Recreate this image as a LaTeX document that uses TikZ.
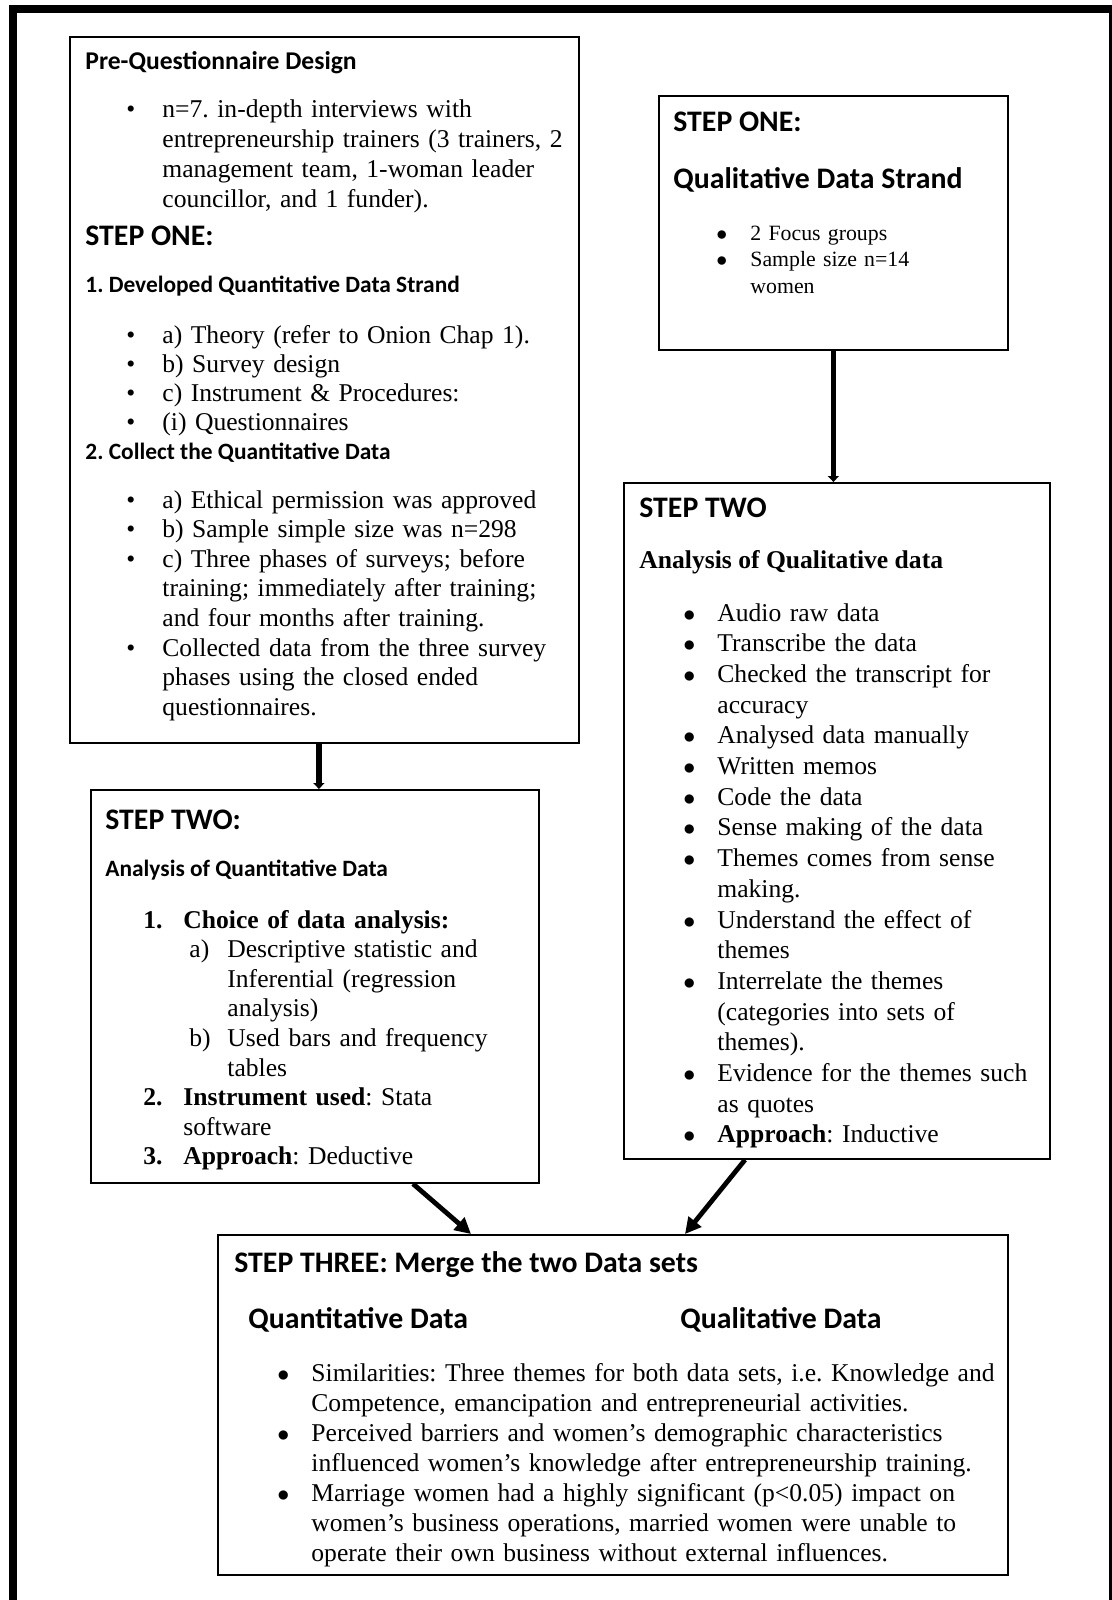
\documentclass[tikz,border=0pt]{standalone}
\usepackage{fontspec}
\setmainfont{Liberation Serif}
\newfontfamily\calibri{Carlito}
\usepackage{tikz}
\usetikzlibrary{arrows.meta}
\frenchspacing

\newcommand\dotA{\makebox[18pt][l]{\textbullet}}
\newcommand\dotB{\makebox[17pt][l]{$\bullet$}}

\begin{document}
\begin{tikzpicture}[x=0.5pt, y=-0.5pt,
  stepbox/.style={draw, line width=0.9pt, anchor=north west, inner sep=0pt},
  headtxt/.style={anchor=base west, inner sep=0pt, font=\calibri\bfseries\fontsize{14.9}{17}\selectfont},
  subtxt/.style={anchor=base west, inner sep=0pt, font=\calibri\bfseries\fontsize{11.7}{14}\selectfont},
  bodytxt/.style={anchor=base west, inner sep=0pt, align=left, text width=400pt},
  bigarrow/.style={line width=2.4pt, -{Triangle[length=8pt,width=8pt]}},
  smallarrow/.style={line width=2.8pt, -{Triangle[length=3pt,width=5.5pt]}}]
  \useasboundingbox (0,0) rectangle (1112,1600);
  % page frame
  \draw[line width=4pt] (13,1600) -- (13,9) -- (1112,9);
  \draw[line width=1.5pt] (1110.5,9) -- (1110.5,1600);

  % boxes
  \node[stepbox, minimum width=254.5pt, minimum height=353pt] (QN1) at (69,36) {};
  \node[stepbox, minimum width=174.5pt, minimum height=127pt] (QL1) at (658,95) {};
  \node[stepbox, minimum width=213pt, minimum height=338pt] (QL2) at (623,482) {};
  \node[stepbox, minimum width=224pt, minimum height=196.5pt] (QN2) at (90,789) {};
  \node[stepbox, minimum width=395pt, minimum height=170pt] (M) at (217,1234) {};

  % quantitative strand
  \node[subtxt, font=\calibri\bfseries\fontsize{12.8}{15}\selectfont] (QN1h) at (85,70) {Pre-Questionnaire Design};
  \node[bodytxt, font=\fontsize{12.8}{15}\selectfont] (QN1a) at (126,118) {%
    \dotA n=7. in-depth interviews with\\
    \hspace*{18pt}entrepreneurship trainers (3 trainers, 2\\
    \hspace*{18pt}management team, 1-woman leader\\
    \hspace*{18pt}councillor, and 1 funder).};
  \node[headtxt] (QN1s) at (85,245) {STEP ONE:};
  \node[subtxt] (QN1d) at (85,292) {1. Developed Quantitative Data Strand};
  \node[bodytxt, font=\fontsize{12.8}{14.65}\selectfont] (QN1b) at (126,343) {%
    \dotA a) Theory (refer to Onion Chap 1).\\
    \dotA b) Survey design\\
    \dotA c) Instrument \& Procedures:\\
    \dotA (i) Questionnaires};
  \node[subtxt] (QN1c) at (85,459) {2. Collect the Quantitative Data};
  \node[bodytxt, font=\fontsize{12.8}{14.8}\selectfont] (QN1e) at (126,508) {%
    \dotA a) Ethical permission was approved\\
    \dotA b) Sample simple size was n=298\\
    \dotA c) Three phases of surveys; before\\
    \hspace*{18pt}training; immediately after training;\\
    \hspace*{18pt}and four months after training.\\
    \dotA Collected data from the three survey\\
    \hspace*{18pt}phases using the closed ended\\
    \hspace*{18pt}questionnaires.};

  \node[headtxt] (QN2h) at (105,829) {STEP TWO:};
  \node[subtxt] (QN2s) at (105,876) {Analysis of Quantitative Data};
  \node[bodytxt, font=\fontsize{12.8}{14.8}\selectfont] (QN2a) at (143,928) {%
    \makebox[20pt][l]{\textbf{1.}}\textbf{Choice of data analysis:}\\
    \hspace*{23pt}\makebox[19pt][l]{a)}Descriptive statistic and\\
    \hspace*{42pt}Inferential (regression\\
    \hspace*{42pt}analysis)\\
    \hspace*{23pt}\makebox[19pt][l]{b)}Used bars and frequency\\
    \hspace*{42pt}tables\\
    \makebox[20pt][l]{\textbf{2.}}\textbf{Instrument used}: Stata\\
    \hspace*{20pt}software\\
    \makebox[20pt][l]{\textbf{3.}}\textbf{Approach}: Deductive};

  % qualitative strand
  \node[headtxt] (QL1h) at (673,132) {STEP ONE:};
  \node[headtxt] (QL1s) at (673,188) {Qualitative Data Strand};
  \node[bodytxt, font=\fontsize{10.9}{13.25}\selectfont] (QL1a) at (716,240) {%
    \dotB 2 Focus groups\\
    \dotB Sample size n=14\\
    \hspace*{17pt}women};

  \node[headtxt] (QL2h) at (639,517) {STEP TWO};
  \node[anchor=base west, inner sep=0pt, font=\bfseries\fontsize{12.8}{15}\selectfont] (QL2s) at (639,568) {Analysis of Qualitative data};
  \node[bodytxt, font=\fontsize{12.8}{15.35}\selectfont] (QL2a) at (683,621) {%
    \dotB Audio raw data\\
    \dotB Transcribe the data\\
    \dotB Checked the transcript for\\
    \hspace*{17pt}accuracy\\
    \dotB Analysed data manually\\
    \dotB Written memos\\
    \dotB Code the data\\
    \dotB Sense making of the data\\
    \dotB Themes comes from sense\\
    \hspace*{17pt}making.\\
    \dotB Understand the effect of\\
    \hspace*{17pt}themes\\
    \dotB Interrelate the themes\\
    \hspace*{17pt}(categories into sets of\\
    \hspace*{17pt}themes).\\
    \dotB Evidence for the themes such\\
    \hspace*{17pt}as quotes\\
    \dotB \textbf{Approach}: Inductive};

  % merge
  \node[headtxt] (Mh) at (234,1272) {STEP THREE: Merge the two Data sets};
  \node[headtxt] (Mq) at (248,1328) {Quantitative Data};
  \node[headtxt] (Ml) at (680,1328) {Qualitative Data};
  \node[bodytxt, font=\fontsize{12.8}{15}\selectfont] (Ma) at (277,1381) {%
    \dotB Similarities: Three themes for both data sets, i.e. Knowledge and\\
    \hspace*{17pt}Competence, emancipation and entrepreneurial activities.\\
    \dotB Perceived barriers and women's demographic characteristics\\
    \hspace*{17pt}influenced women's knowledge after entrepreneurship training.\\
    \dotB Marriage women had a highly significant (p<0.05) impact on\\
    \hspace*{17pt}women's business operations, married women were unable to\\
    \hspace*{17pt}operate their own business without external influences.};

  % connectors
  \draw[smallarrow] ([xshift=-2.75pt]QN1.south) -- ([xshift=-2.75pt]QN1.south |- QN2.north);
  \draw[smallarrow, line width=2.4pt] (QL1.south) -- (QL1.south |- QL2.north);
  \draw[bigarrow] ([xshift=161.5pt]QN2.south west) -- ([xshift=127pt]M.north west);
  \draw[bigarrow] ([xshift=61pt]QL2.south west) -- ([xshift=234pt]M.north west);
\end{tikzpicture}
\end{document}
